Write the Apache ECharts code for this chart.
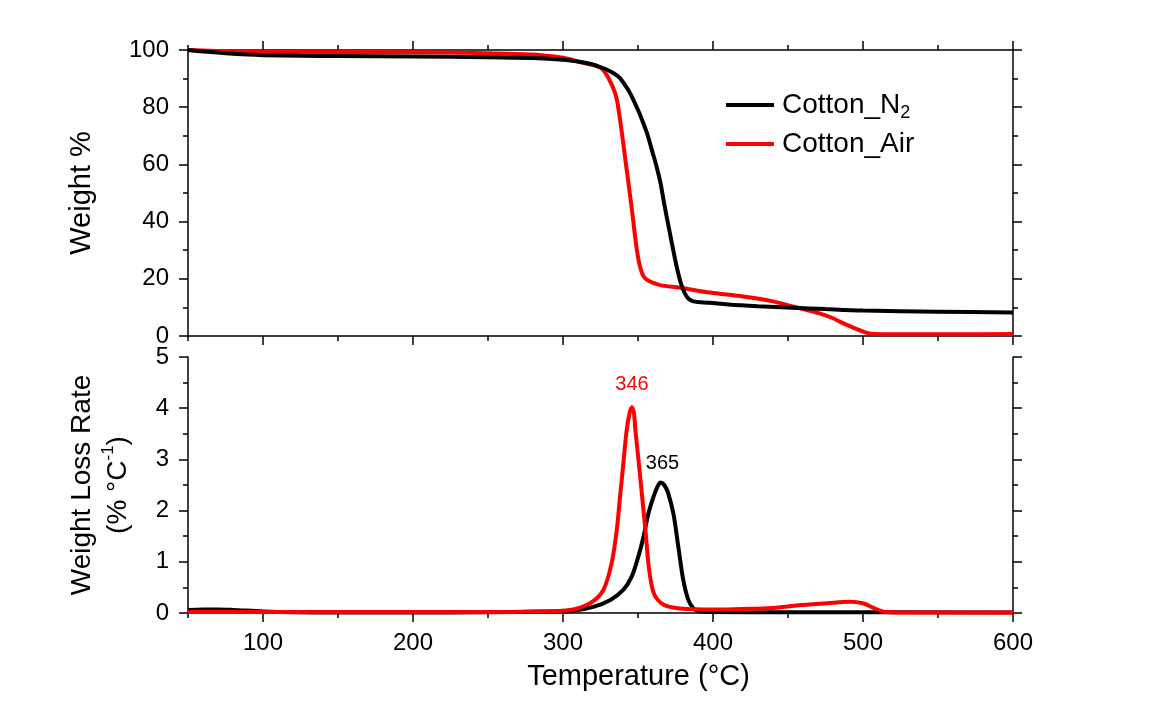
<!DOCTYPE html>
<html>
<head>
<meta charset="utf-8">
<script src="https://cdn.jsdelivr.net/npm/echarts@6/dist/echarts.min.js"></script>
<style>
html,body{margin:0;padding:0;background:#fff;}
#chart{width:1173px;height:722px;}
</style>
</head>
<body>
<div id="chart"></div>
<script>
// ---- data ----
const tempN2Tga = [50,60,75,90,100,125,150,200,250,280,300,311,318,324,329,334,338,341,344,347,350,352,356,359,362.4,365,367,369,371.3,373.5,375.8,378,380.2,382.5,384.7,387,390,398,410,430,453,475,500,550,600];
const weightN2  = [100,99.5,98.9,98.4,98.2,98.0,97.9,97.7,97.5,97.2,96.6,95.9,95.2,94.2,93.2,91.8,90.2,88.0,85.6,82.5,79.0,76.5,70.9,65.5,59.2,53.5,47.6,42,35.9,30,24.2,19.5,16.1,13.8,12.6,12.1,11.9,11.6,11.0,10.4,9.9,9.4,8.9,8.5,8.2];

const tempAirTga = [50,75,100,150,200,250,280,300,306,311,318,322,325,328,331,334,336,339,342,345,347,349,351,353.6,357,364.7,378,398,420,440,453,462,471,480,487,495,502,508,520,560,600];
const weightAir  = [100,99.6,99.4,99.3,99.2,98.9,98.4,97.3,96.6,95.8,95.0,94.5,93.8,92.2,89.5,86,82.5,72,60,48,39.5,31,25,21,19.3,17.8,16.9,15.2,13.8,12.1,10.3,9.2,7.9,6.2,4.4,2.6,1.2,0.7,0.6,0.6,0.7];

const tempN2Dtg = [50,60,70,80,100,120,150,200,250,290,307,320.2,331.3,340.2,345.8,350.2,353.6,356.9,360.2,363,365,367.5,370,373.6,376.9,380.2,383.6,386.9,390.2,395,450,600];
const rateN2    = [0.06,0.07,0.07,0.06,0.03,0.015,0.01,0.01,0.015,0.03,0.045,0.12,0.25,0.45,0.71,1.1,1.48,1.94,2.26,2.47,2.55,2.5,2.35,1.94,1.29,0.64,0.25,0.09,0.04,0.02,0.015,0.01];

const tempAirDtg = [50,150,250,280,304.7,318,326.9,332.4,335.8,338,340.2,342.4,344.5,346,347.3,348.3,350.6,352.8,355,357.2,360.6,367.1,378,402,420,440,457,476,491,500,507,512,515,530,600];
const rateAir    = [0.02,0.02,0.02,0.03,0.06,0.19,0.45,0.97,1.61,2.26,2.91,3.56,3.92,4.02,3.9,3.56,2.91,2.26,1.61,0.9,0.38,0.16,0.09,0.07,0.08,0.1,0.15,0.19,0.22,0.19,0.1,0.04,0.02,0.01,0.01];

const xMajorTicks = [100,200,300,400,500,600];
const xMinorTicks = [50,150,250,350,450,550];
const peakAir = [346, 4.02];
const peakN2  = [365, 2.55];
const seriesNames = ['Cotton_N2','Cotton_Air'];

// ---- chart ----
const zip = (a,b) => a.map((v,i) => [v,b[i]]);
const FONT = 'Liberation Sans, Arial, sans-serif';
const AX = {color:'#000', width:1.5};
const SMOOTH = 0.3;

function xAx(grid, pos, major, labels) {
  return {
    type:'value', gridIndex:grid, position:pos, min:50, max:600,
    axisLine:{show:major, lineStyle:AX},
    axisTick:{show:true, length: major?9:5, lineStyle:AX, customValues: major?xMajorTicks:xMinorTicks},
    axisLabel:{show:labels, customValues:xMajorTicks, margin:18, color:'#000', fontSize:24, fontFamily:FONT},
    splitLine:{show:false}
  };
}
function yAx(grid, pos, max, interval, labels, name) {
  const o = {
    type:'value', gridIndex:grid, position:pos, min:0, max:max, interval:interval,
    axisLine:{show:true, lineStyle:AX},
    axisTick:{show:true, length:9, lineStyle:AX},
    minorTick:{show:true, splitNumber:2, length:5, lineStyle:AX},
    axisLabel:{show:labels, margin:19, color:'#000', fontSize:24, fontFamily:FONT},
    splitLine:{show:false}, minorSplitLine:{show:false}
  };
  if (name) Object.assign(o, name);
  return o;
}
function lineSeries(name, xi, yi, data, color, extra) {
  return Object.assign({
    name:name, type:'line', xAxisIndex:xi, yAxisIndex:yi, data:data,
    showSymbol:false, smooth:SMOOTH, lineStyle:{color:color, width:4}, itemStyle:{color:color}
  }, extra || {});
}

const chart = echarts.init(document.getElementById('chart'), null, {renderer:'canvas'});
chart.setOption({
  animation:false,
  backgroundColor:'#fff',
  textStyle:{fontFamily:FONT},
  grid:[
    {left:188, right:160, top:50, height:286},
    {left:188, right:160, top:357, height:256}
  ],
  legend:{
    data:seriesNames, orient:'vertical', left:721, top:86, itemGap:8,
    icon:'rect', itemWidth:48, itemHeight:4,
    formatter: n => n === 'Cotton_N2' ? '{a|Cotton_N}{s|2}' : '{a|Cotton_Air}',
    textStyle:{
      padding:[0,0,0,3],
      rich:{
        a:{fontSize:28, fontFamily:FONT, color:'#000', lineHeight:34},
        s:{fontSize:18, fontFamily:FONT, color:'#000', verticalAlign:'bottom', lineHeight:18, padding:[12,0,0,0]}
      }
    }
  },
  xAxis:[
    xAx(0,'bottom',true,false),
    xAx(0,'bottom',false,false),
    xAx(0,'top',true,false),
    xAx(0,'top',false,false),
    Object.assign(xAx(1,'bottom',true,true), {
      name:'Temperature (°C)', nameLocation:'middle', nameGap:49,
      nameTextStyle:{fontSize:29, color:'#000', fontFamily:FONT, padding:[0,0,0,76]}
    }),
    xAx(1,'bottom',false,false)
  ],
  yAxis:[
    yAx(0,'left',100,20,true,{
      name:'Weight %', nameLocation:'middle', nameGap:92, nameRotate:90,
      nameTextStyle:{fontSize:29, color:'#000', fontFamily:FONT}
    }),
    yAx(0,'right',100,20,false),
    yAx(1,'left',5,1,true,{
      name:'{t|Weight Loss Rate}\n{t|(% °C}{sup|-1}{t|)}', nameLocation:'middle', nameGap:52, nameRotate:90,
      nameTextStyle:{
        color:'#000', fontFamily:FONT,
        rich:{
          t:{fontSize:28, lineHeight:36, color:'#000', fontFamily:FONT},
          sup:{fontSize:17, lineHeight:36, color:'#000', fontFamily:FONT, verticalAlign:'top', padding:[0,0,10,0]}
        }
      }
    }),
    yAx(1,'right',5,1,false)
  ],
  series:[
    lineSeries('Cotton_Air',0,0,zip(tempAirTga,weightAir),'#ff0000'),
    lineSeries('Cotton_N2',0,0,zip(tempN2Tga,weightN2),'#000000'),
    lineSeries('Cotton_N2',4,2,zip(tempN2Dtg,rateN2),'#000000',{
      markPoint:{symbol:'circle', symbolSize:0, silent:true,
        data:[{coord:peakN2, value:String(peakN2[0])}],
        label:{show:true, position:'top', distance:9, offset:[2,0], color:'#000', fontSize:20, fontFamily:FONT, formatter:'{c}'}}
    }),
    lineSeries('Cotton_Air',4,2,zip(tempAirDtg,rateAir),'#ff0000',{
      markPoint:{symbol:'circle', symbolSize:0, silent:true,
        data:[{coord:peakAir, value:String(peakAir[0])}],
        label:{show:true, position:'top', distance:13, color:'#ff0000', fontSize:20, fontFamily:FONT, formatter:'{c}'}}
    })
  ]
});
</script>
</body>
</html>
